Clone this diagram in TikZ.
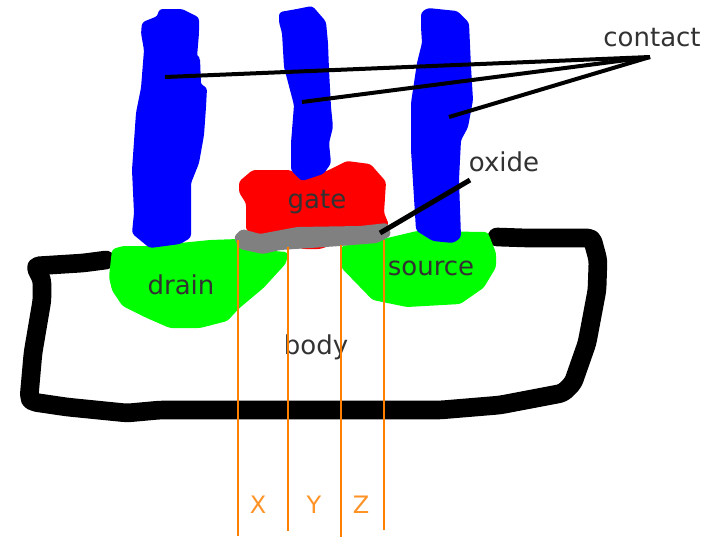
\documentclass[tikz,border=0pt]{standalone}
\usepackage{fontspec}
\setmainfont{DejaVu Sans}
\definecolor{paintblue}{RGB}{0,0,255}
\definecolor{paintred}{RGB}{255,0,0}
\definecolor{paintgreen}{RGB}{0,255,0}
\definecolor{paintgray}{RGB}{128,128,128}
\definecolor{paintorange}{RGB}{255,128,0}
\definecolor{labelgray}{RGB}{50,50,50}
\tikzset{
  blob/.style={fill=#1,draw=#1,line width=1.5pt,line join=round,rounded corners=2pt},
  body line/.style={draw=black,line width=14pt,line join=round,line cap=round,rounded corners=3pt},
  pointer/.style={draw=black,line width=3pt,line cap=butt},
  cut/.style={draw=paintorange,line width=1.5pt},
  lab/.style={font=\fontsize{19.5}{20}\selectfont,text=labelgray,inner sep=0pt},
  cutlab/.style={font=\fontsize{18}{18}\selectfont,text=paintorange!85!white,inner sep=0pt}
}
\begin{document}
\begin{tikzpicture}[x=0.75pt,y=-0.75pt]
\useasboundingbox (0,0) rectangle (716,537);
\fill[white] (0,0) rectangle (716,537);
% body outline
\draw[body line] (106,260) -- (83,263) -- (35,266) -- (42,280) -- (42,300) -- (33,353) -- (29,398) -- (33,402) -- (67,407) -- (127,413) -- (160,410) -- (400,410) -- (440,410) -- (500,405) -- (563,393) -- (573,383) -- (587,343) -- (597,290) -- (598,260) -- (592,238) -- (527,238) -- (497,237);
% green wells
\path[blob=paintgreen] (113,250) -- (123,247) -- (150,247) -- (210,241) -- (238,240) -- (247,250) -- (287,253) -- (285,263) -- (263,287) -- (238,308) -- (227,320) -- (200,327) -- (170,327) -- (147,317) -- (123,305) -- (113,290) -- (110,277) -- cycle;
\path[blob=paintgreen] (342,247) -- (383,240) -- (417,232) -- (487,233) -- (495,253) -- (495,267) -- (483,287) -- (460,303) -- (407,306) -- (373,299) -- (342,267) -- cycle;
% red gate
\path[blob=paintred] (240,182) -- (253,171) -- (290,171) -- (300,178) -- (327,172) -- (347,162) -- (370,165) -- (385,182) -- (383,213) -- (388,225) -- (320,248) -- (303,248) -- (247,230) -- (247,203) -- (240,192) -- cycle;
% blue contacts
\path[blob=paintblue] (160,10) -- (182,10) -- (198,18) -- (198,33) -- (196,57) -- (199,58) -- (200,85) -- (206,88) -- (205,107) -- (203,135) -- (198,163) -- (190,183) -- (190,237) -- (180,243) -- (150,247) -- (133,233) -- (135,213) -- (133,170) -- (137,113) -- (142,88) -- (145,50) -- (142,33) -- (143,23) -- (158,17) -- cycle;
\path[blob=paintblue] (280,13) -- (297,10) -- (312,7) -- (325,22) -- (327,43) -- (328,70) -- (330,107) -- (332,127) -- (328,143) -- (330,163) -- (323,173) -- (302,180) -- (292,170) -- (292,143) -- (295,105) -- (285,67) -- (283,33) -- (280,22) -- cycle;
\path[blob=paintblue] (422,13) -- (428,9) -- (457,12) -- (468,23) -- (470,67) -- (472,100) -- (467,127) -- (460,140) -- (458,180) -- (460,237) -- (453,242) -- (433,240) -- (417,230) -- (412,150) -- (412,103) -- (418,63) -- (423,43) -- (422,27) -- cycle;
% gray oxide
\path[blob=paintgray] (235,237) -- (242,230) -- (260,235) -- (297,228) -- (360,227) -- (387,224) -- (390,235) -- (377,242) -- (340,245) -- (280,249) -- (263,253) -- (240,248) -- cycle;
% labels
\node[lab] (gate) at (317,202) {gate};
\node[lab] (drain) at (181,285) {drain};
\node[lab] (source) at (431,268) {source};
\node[lab] (body) at (316,347) {body};
\node[lab] (contact) at (652,38) {contact};
\node[lab] (oxide) at (504,162) {oxide};
\node[cutlab] (x) at (258,505) {X};
\node[cutlab] (y) at (314,505) {Y};
\node[cutlab] (z) at (361,505) {Z};
% pointers
\coordinate (hub) at (650,57);
\coordinate (c1) at (165,77);
\coordinate (c2) at (302,102);
\coordinate (c3) at (449,117);
\coordinate (oxtail) at (470,180);
\coordinate (oxtip) at (380,233);
\draw[pointer] (hub) -- (c1);
\draw[pointer] (hub) -- (c2);
\draw[pointer] (hub) -- (c3);
\draw[pointer,line width=3.75pt] (oxtail) -- (oxtip);
% orange cuts
\coordinate (x1) at (238,240); \coordinate (x2) at (238,536);
\coordinate (y1) at (288,247); \coordinate (y2) at (288,531);
\coordinate (z1) at (341,245); \coordinate (z2) at (341,537);
\coordinate (w1) at (384,240); \coordinate (w2) at (384,530);
\draw[cut] (x1) -- (x2);
\draw[cut] (y1) -- (y2);
\draw[cut] (z1) -- (z2);
\draw[cut] (w1) -- (w2);
\end{tikzpicture}
\end{document}
